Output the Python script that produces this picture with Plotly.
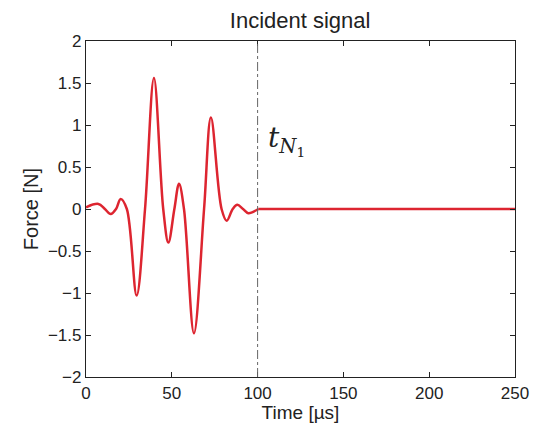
import plotly.graph_objects as go

# Data
burst_time_us = [0, 7.2, 11.0, 14.4, 17.5, 20.2, 23.8, 29.5, 34.4, 39.6, 45.0, 48.0, 51.5,
                 54.2, 57.1, 62.9, 68.8, 72.8, 79.0, 82.0, 85.5, 88.2, 91.5, 94.6, 100.4]
burst_force_N = [0.02, 0.06, 0.0, -0.06, 0.0, 0.12, 0.0, -1.03, 0.0, 1.56, 0.0, -0.40, 0.0,
                 0.30, 0.0, -1.48, 0.0, 1.09, 0.0, -0.14, 0.0, 0.05, 0.0, -0.05, 0.0]
tail_time_us = [100.4, 250]
tail_force_N = [0.0, 0.0]

x_ticks = [0, 50, 100, 150, 200, 250]
y_ticks = [-2, -1.5, -1, -0.5, 0, 0.5, 1, 1.5, 2]
y_tick_labels = ["\u22122", "\u22121.5", "\u22121", "\u22120.5", "0", "0.5", "1", "1.5", "2"]
t_marker = 100
marker_label = "<i>t</i><sub><i>N</i><sub>1</sub></sub>"

red = "#dd2530"
fig = go.Figure()
fig.add_trace(go.Scatter(
    x=burst_time_us, y=burst_force_N, mode="lines",
    line=dict(color=red, width=2.5, shape="spline", smoothing=1.0),
    hoverinfo="skip", showlegend=False))
fig.add_trace(go.Scatter(
    x=tail_time_us, y=tail_force_N, mode="lines",
    line=dict(color=red, width=2.5),
    hoverinfo="skip", showlegend=False))

fig.add_shape(type="line", x0=t_marker, x1=t_marker, y0=-2, y1=2, xref="x", yref="y",
              line=dict(color="#666666", width=1, dash="dashdot"))

fig.add_annotation(x=105, y=0.82, xref="x", yref="y", text=marker_label,
                   showarrow=False, xanchor="left", yanchor="middle",
                   font=dict(family="DejaVu Serif, serif", size=28, color="#222222"))

font_family = "Liberation Sans, Arial, sans-serif"
fig.update_layout(
    width=535, height=424,
    margin=dict(l=78, r=28, t=33, b=55),
    paper_bgcolor="white", plot_bgcolor="white",
    title=dict(text="Incident signal", x=0.546, xanchor="center",
               y=0.972, yref="container", yanchor="middle",
               font=dict(family=font_family, size=22, color="#222222")),
    font=dict(family=font_family, size=17, color="#222222"),
)
fig.update_xaxes(
    range=[0, 250], tickvals=x_ticks, ticks="inside", ticklen=5, tickcolor="#222222",
    showline=True, linecolor="#222222", linewidth=1.2, mirror="ticks",
    showgrid=False, zeroline=False,
    title=dict(text="Time [\u00b5s]", font=dict(size=19), standoff=4),
)
fig.update_yaxes(
    range=[-2, 2], tickvals=y_ticks, ticktext=y_tick_labels, ticks="inside", ticklen=5,
    tickcolor="#222222", showline=True, linecolor="#222222", linewidth=1.2, mirror="ticks",
    showgrid=False, zeroline=False,
    title=dict(text="Force [N]", font=dict(size=20), standoff=3),
)

fig.write_html("out.html")
